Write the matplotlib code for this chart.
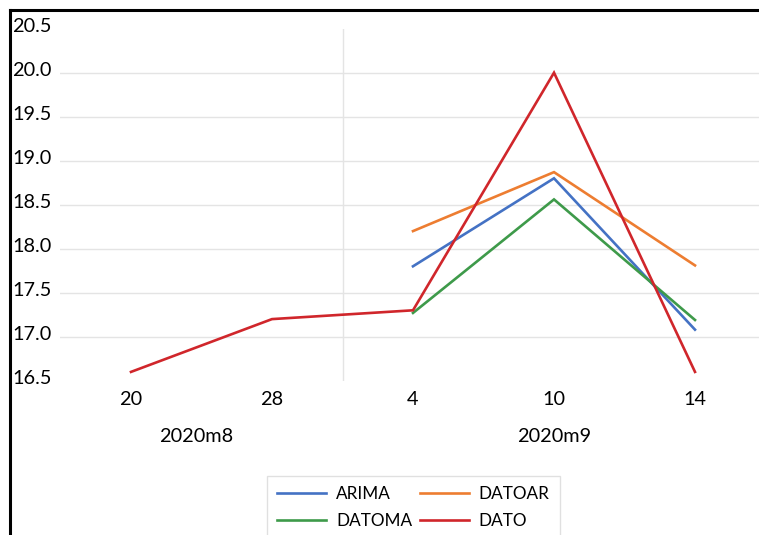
import matplotlib
matplotlib.use("Agg")
import matplotlib.pyplot as plt
from matplotlib.lines import Line2D
import numpy as np

plt.rcParams['font.family'] = ['Lato', 'DejaVu Sans']

days = ["20", "28", "4", "10", "14"]
months = ["2020m8", "2020m9"]
month_pos = [0.46, 3.0]
dato = [16.6, 17.2, 17.3, 20.0, 16.6]
arima = [None, None, 17.8, 18.8, 17.08]
datoar = [None, None, 18.2, 18.87, 17.81]
datoma = [None, None, 17.27, 18.56, 17.19]
yticks = [16.5, 17.0, 17.5, 18.0, 18.5, 19.0, 19.5, 20.0, 20.5]

W, H = 759, 535
fig = plt.figure(figsize=(W/100, H/100), dpi=100)
left_px, bottom_px, top_px = 60.5, 380.7, 28.7
ax = fig.add_axes([left_px/W, (H-bottom_px)/H, (W-left_px)/W, (bottom_px-top_px)/H])
x = np.arange(len(days))
ax.set_xlim(-0.5, (W-131)/141)
ax.set_ylim(16.5, 20.5)
for s in ax.spines.values():
    s.set_visible(False)
ax.set_xticks([]); ax.set_yticks([])

for v in yticks[1:-1]:
    ax.axhline(v, color="#E4E4E4", lw=1.0, zorder=0)
ax.plot([1.5, 1.5], [16.5, 20.5], color="#E4E4E4", lw=1.0, zorder=0)

def arr(a):
    return np.array([np.nan if v is None else v for v in a], dtype=float)

colors = {"ARIMA": "#4472C4", "DATOAR": "#ED7D31", "DATOMA": "#3E9A4A", "DATO": "#D0262B"}
lw = 1.9
ax.plot(x, arr(arima), color=colors["ARIMA"], lw=lw, solid_joinstyle="miter")
ax.plot(x, arr(datoar), color=colors["DATOAR"], lw=lw, solid_joinstyle="miter")
ax.plot(x, arr(datoma), color=colors["DATOMA"], lw=lw, solid_joinstyle="miter")
ax.plot(x, arr(dato), color=colors["DATO"], lw=lw, solid_joinstyle="miter")

# y tick labels
for v in yticks:
    ax.annotate(f"{v:.1f}", xy=(0, v), xycoords=("figure pixels", "data"),
                xytext=(12, 2), textcoords="offset pixels", ha="left", va="center",
                fontsize=14.3, color="#000000", annotation_clip=False)
# x tick labels
for xi, d in zip(x, days):
    ax.annotate(d, xy=(xi, 16.5), xycoords="data", xytext=(0, -18.5),
                textcoords="offset pixels", ha="center", va="center",
                fontsize=14.3, annotation_clip=False)
for mp, m in zip(month_pos, months):
    ax.annotate(m, xy=(mp, 16.5), xycoords="data", xytext=(0, -56),
                textcoords="offset pixels", ha="center", va="center",
                fontsize=14.3, annotation_clip=False)

# frame lines (top and left)
fig.add_artist(Line2D([9.5/W, 1.0], [1-9.5/H, 1-9.5/H], color="black", lw=2.2,
                      transform=fig.transFigure))
fig.add_artist(Line2D([9.5/W, 9.5/W], [0, 1-9.5/H], color="black", lw=2.2,
                      transform=fig.transFigure))

order = ["ARIMA", "DATOMA", "DATOAR", "DATO"]
handles = [Line2D([], [], color=colors[k], lw=lw) for k in order]
leg = fig.legend(handles, order, ncol=2, loc="upper left",
                 bbox_to_anchor=(266.7/W, 1-476/H), fontsize=12.3,
                 frameon=True, fancybox=False, edgecolor="#D9D9D9",
                 handlelength=2.9, handletextpad=0.55, columnspacing=0.45,
                 labelspacing=0.65, borderpad=0.6, borderaxespad=0)
leg.get_frame().set_linewidth(1.0)

fig.savefig("out.png", dpi=100, facecolor="white")
